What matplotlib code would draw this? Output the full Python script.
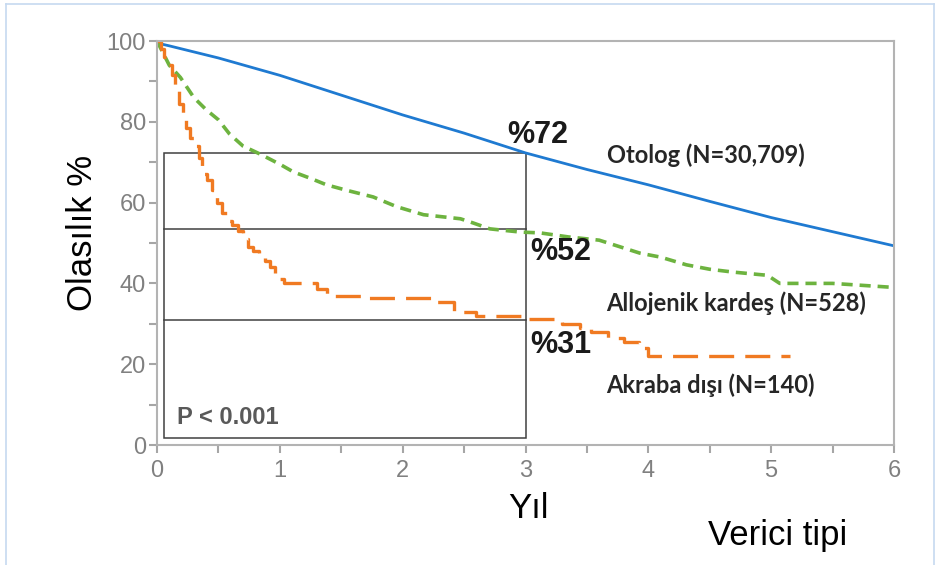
import matplotlib
matplotlib.use("Agg")
import matplotlib.pyplot as plt
from matplotlib.patches import Rectangle
from matplotlib.lines import Line2D
from matplotlib.ticker import MultipleLocator

plt.rcParams['font.family'] = ['Liberation Sans', 'DejaVu Sans']
plt.rcParams['lines.scale_dashes'] = False

# Otolog (blue, solid)
oto_x = [0, 0.1, 0.5, 1, 1.5, 2, 2.5, 3, 3.5, 4, 4.5, 5, 5.5, 6]
oto_y = [99.5, 98.8, 95.8, 91.5, 86.6, 81.7, 77.2, 72.3, 68.2, 64.4, 60.3, 56.3, 52.8, 49.3]

# Allojenik kardes (green, short dash)
allo_x = [0, 0.05, 0.1, 0.19, 0.3, 0.4, 0.5, 0.59, 0.7, 0.84, 1.0, 1.11, 1.25, 1.38,
          1.55, 1.76, 1.95, 2.17, 2.47, 2.57, 2.71, 2.96, 3.12, 3.35, 3.6, 3.93, 4.1,
          4.31, 4.5, 4.69, 4.97, 5.07, 5.5, 6.0]
allo_y = [100, 97, 94, 91, 86, 83, 80.5, 77, 74, 72, 69.5, 67.6, 66, 64.4,
          63, 61.4, 59, 57, 56, 55, 53.5, 52.7, 52.5, 51.5, 50.7, 47.5, 46.5,
          44.6, 43.5, 42.8, 42, 40, 40, 39]

# Akraba disi (orange, long dash, steps)
akr_x = [0, 0.03, 0.06, 0.09, 0.12, 0.15, 0.18, 0.21, 0.24, 0.27, 0.30, 0.34, 0.37,
         0.41, 0.45, 0.49, 0.53, 0.57, 0.61, 0.66, 0.70, 0.74, 0.78, 0.83, 0.88,
         0.92, 0.96, 1.00, 1.03, 1.30, 1.38, 1.72, 2.27, 2.42, 2.60, 3.0, 3.30,
         3.44, 3.53, 3.67, 3.80, 3.92, 4.00, 5.15]
akr_y = [100, 98, 96, 94, 91.5, 88, 84.5, 81, 78.5, 76, 74, 71, 67,
         65.5, 63, 60, 57.5, 55.5, 54.5, 53, 51, 49, 48, 47, 45.5,
         44, 42, 41, 40, 38.5, 37, 36.5, 35.5, 33, 32, 31.2, 30,
         29, 28, 26.5, 25.5, 24, 22, 22]

marks = [72, 53.5, 31]
mark_labels = ["%72", "%52", "%31"]
series_labels = ["Otolog (N=30,709)", "Allojenik kardeş (N=528)", "Akraba dışı (N=140)"]

W, H = 937, 565
fig = plt.figure(figsize=(W / 100, H / 100), dpi=100)
ax = fig.add_axes([157 / W, 1 - 445 / H, (894 - 157) / W, (445 - 41) / H])

ax.plot(oto_x, oto_y, color="#1f7ad1", lw=2.0, solid_capstyle="round")
ax.plot(allo_x, allo_y, color="#6db33f", lw=2.6, dashes=(8, 5))
ax.plot(akr_x, akr_y, color="#f07a22", lw=2.4, dashes=(18, 8), drawstyle="steps-post")

# box with reference lines at 3 years
box_x0, box_y0 = 0.057, 1.7
ax.add_patch(Rectangle((box_x0, box_y0), 3 - box_x0, marks[0] + 0.3 - box_y0,
                       fill=False, ec="#404040", lw=1.1, zorder=1))
for m in marks[1:]:
    ax.plot([box_x0, 3], [m, m], color="#404040", lw=1.1, zorder=1)

pct_font = dict(fontsize=22, fontweight="bold", color="#1a1a1a", ha="left", va="center")
ax.text(2.85, 76.7, mark_labels[0], **pct_font)
ax.text(3.04, 47.8, mark_labels[1], **pct_font)
ax.text(3.04, 24.7, mark_labels[2], **pct_font)

lab_font = dict(fontsize=17, fontweight="bold", color="#262626", family=["Lato", "DejaVu Sans"],
                ha="left", va="center")
ax.text(3.66, 71.8, series_labels[0], **lab_font)
ax.text(3.66, 35.1, series_labels[1], **lab_font)
ax.text(3.66, 14.9, series_labels[2], **lab_font)

ax.text(0.16, 6.9, "P < 0.001", fontsize=17, fontweight="bold", color="#595959",
        ha="left", va="center")

ax.set_xlim(0, 6)
ax.set_ylim(0, 100)
ax.xaxis.set_major_locator(MultipleLocator(1))
ax.xaxis.set_minor_locator(MultipleLocator(0.5))
ax.yaxis.set_major_locator(MultipleLocator(20))
ax.yaxis.set_minor_locator(MultipleLocator(10))
for s in ax.spines.values():
    s.set_color("#b3b3b3")
    s.set_linewidth(1.5)
ax.tick_params(which="both", direction="out", color="#a6a6a6", width=1.5,
               labelcolor="#808080", labelsize=17)
ax.tick_params(which="major", length=6)
ax.tick_params(which="minor", length=6)
ax.tick_params(axis="x", pad=5)
ax.tick_params(axis="y", pad=2)

fig.text(82 / W, 1 - 233 / H, "Olasılık %", fontsize=25, rotation=90,
         ha="center", va="center", color="black")
fig.text(528 / W, 1 - 508 / H, "Yıl", fontsize=25, ha="center", va="center", color="black")
fig.text(778 / W, 1 - 535 / H, "Verici tipi", fontsize=25, ha="center", va="center", color="black")

# light frame around the picture
fx0, fx1, fy1 = 6 / W, 934 / W, 1 - 4 / H
for xs, ys in [([fx0, fx1], [fy1, fy1]), ([fx0, fx0], [0, fy1]), ([fx1, fx1], [0, fy1])]:
    fig.add_artist(Line2D(xs, ys, color="#c6d9f0", lw=1.2, transform=fig.transFigure))

fig.savefig("out.png", dpi=100)
